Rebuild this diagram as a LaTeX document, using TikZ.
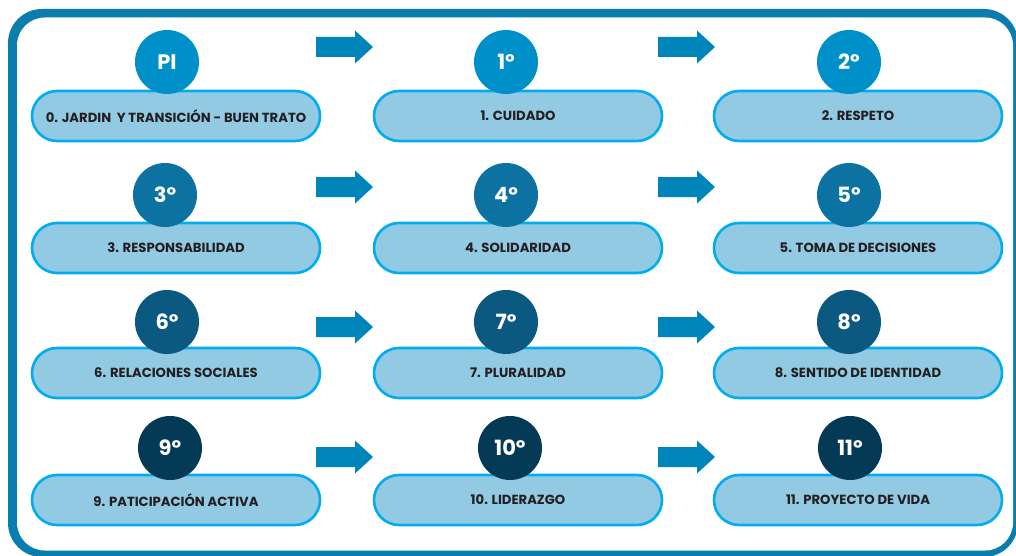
\documentclass[tikz,border=0pt]{standalone}
\usepackage{fontspec}
\setmainfont{Poppins}
\usetikzlibrary{positioning}
\definecolor{framec}{HTML}{0A7DAF}
\definecolor{arrowc}{HTML}{0085BA}
\definecolor{pillfill}{HTML}{92C9E3}
\definecolor{pilldraw}{HTML}{00AEEF}
\definecolor{rowa}{HTML}{0090C9}
\definecolor{rowb}{HTML}{0B72A1}
\definecolor{rowc}{HTML}{0B5880}
\definecolor{rowd}{HTML}{053A57}
\definecolor{txt}{HTML}{231F20}
\tikzset{
  pill/.style={draw=pilldraw, fill=pillfill, line width=2.6pt, rounded corners=25pt,
    minimum width=288pt, minimum height=50pt, inner sep=0pt,
    font=\bfseries\fontsize{13.2}{15}\selectfont, text=txt},
  badge/.style={circle, fill=#1, minimum size=64pt, inner sep=0pt,
    font=\bfseries\fontsize{21}{24}\selectfont, text=white},
  blockarrow/.pic={\fill[arrowc] (0,-10) -- (39,-10) -- (39,-16.5) -- (57,0) -- (39,16.5) -- (39,10) -- (0,10) -- cycle;}
}
\begin{document}
\begin{tikzpicture}[x=1pt,y=-1pt]
\useasboundingbox (0,0) rectangle (1016,556);
\fill[framec, rounded corners=34pt] (8,9) rectangle (1018,557);
\fill[white, rounded corners=28pt] (17,17.5) rectangle (1013,550.5);
% pills
\node[pill] (p0) at (176,116) {0. JARDIN\ \ Y TRANSICIÓN - BUEN TRATO};
\node[pill] (p1) at (518,116) {1. CUIDADO};
\node[pill] (p2) at (858,116) {2. RESPETO};
\node[pill] (p3) at (176,248) {3. RESPONSABILIDAD};
\node[pill] (p4) at (518,248) {4. SOLIDARIDAD};
\node[pill] (p5) at (858,248) {5. TOMA DE DECISIONES};
\node[pill] (p6) at (176,373) {6. RELACIONES SOCIALES};
\node[pill] (p7) at (518,373) {7. PLURALIDAD};
\node[pill] (p8) at (858,373) {8. SENTIDO DE IDENTIDAD};
\node[pill] (p9) at (176,500) {9. PATICIPACIÓN ACTIVA};
\node[pill] (p10) at (518,500) {10. LIDERAZGO};
\node[pill] (p11) at (858,500) {11. PROYECTO DE VIDA};
% badges
\node[badge=rowa] (c0) at (167,62) {PI};
\node[badge=rowa] (c1) at (506,62) {1º};
\node[badge=rowa] (c2) at (849,62) {2º};
\node[badge=rowb] (c3) at (165,195) {3º};
\node[badge=rowb] (c4) at (506,195) {4º};
\node[badge=rowb] (c5) at (849,195) {5º};
\node[badge=rowc] (c6) at (167,322) {6º};
\node[badge=rowc] (c7) at (506,322) {7º};
\node[badge=rowc] (c8) at (849,322) {8º};
\node[badge=rowd] (c9) at (170,448) {9º};
\node[badge=rowd] (c10) at (510,448) {10º};
\node[badge=rowd] (c11) at (850,448) {11º};
% arrows
\pic at (316,47) {blockarrow};
\pic at (658,47) {blockarrow};
\pic at (316,187) {blockarrow};
\pic at (658,187) {blockarrow};
\pic at (316,327) {blockarrow};
\pic at (658,327) {blockarrow};
\pic at (316,457) {blockarrow};
\pic at (658,457) {blockarrow};
\end{tikzpicture}
\end{document}
